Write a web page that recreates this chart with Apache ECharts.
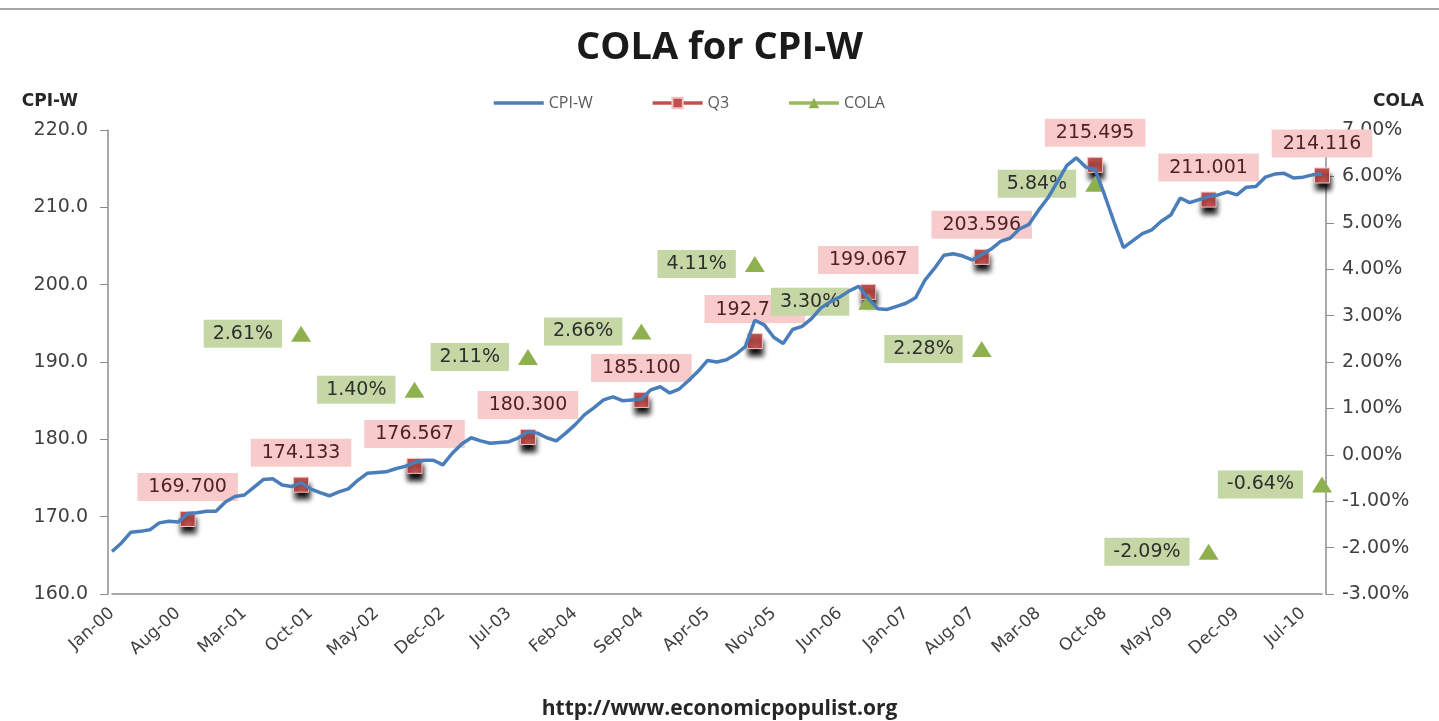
<!DOCTYPE html>
<html>
<head>
<meta charset="utf-8">
<script src="https://cdn.jsdelivr.net/npm/echarts@6/dist/echarts.min.js"></script>
<style>
html,body{margin:0;padding:0;background:#fff;}
#chart{width:1439px;height:721px;}
</style>
</head>
<body>
<div id="chart"></div>
<script>
// ---- Data ----
var MONTHS = ['Jan','Feb','Mar','Apr','May','Jun','Jul','Aug','Sep','Oct','Nov','Dec'];
var YEARS = ['00','01','02','03','04','05','06','07','08','09','10'];
var LAST_MONTH_2010 = 9; // data ends Sep-10

var cpiW = [
  165.5,166.6,168.0,168.1,168.3,169.2,169.4,169.3,170.4,170.5,170.7,170.7,
  171.9,172.6,172.8,173.8,174.8,174.9,174.1,173.9,174.4,173.6,173.1,172.7,
  173.2,173.6,174.7,175.6,175.7,175.8,176.2,176.5,177.0,177.3,177.3,176.7,
  178.2,179.4,180.2,179.8,179.5,179.6,179.7,180.2,181.0,180.8,180.2,179.8,
  180.8,181.9,183.2,184.1,185.1,185.5,185.0,185.1,185.2,186.4,186.8,186.0,
  186.5,187.6,188.8,190.2,190.0,190.3,191.0,192.0,195.4,194.8,193.2,192.4,
  194.2,194.6,195.6,197.0,197.8,198.4,199.2,199.8,198.2,196.9,196.8,197.2,
  197.6,198.3,200.6,202.1,203.8,204.0,203.7,203.2,203.9,204.6,205.6,206.0,
  207.2,207.8,209.6,211.2,213.3,215.4,216.4,215.2,214.9,211.6,208.1,204.8,
  205.7,206.6,207.1,208.2,209.0,211.2,210.6,211.0,211.4,211.6,212.0,211.6,
  212.6,212.7,213.9,214.3,214.4,213.8,213.9,214.2,214.3
];

// Q3 averages, plotted at September of each year 2000..2010
var q3Labels = ['Sep-00','Sep-01','Sep-02','Sep-03','Sep-04','Sep-05','Sep-06','Sep-07','Sep-08','Sep-09','Sep-10'];
var q3Values = [169.700,174.133,176.567,180.300,185.100,192.700,199.067,203.596,215.495,211.001,214.116];

// COLA (%), plotted at September of each year 2001..2010
var colaLabels = ['Sep-01','Sep-02','Sep-03','Sep-04','Sep-05','Sep-06','Sep-07','Sep-08','Sep-09','Sep-10'];
var colaValues = [2.61,1.40,2.11,2.66,4.11,3.30,2.28,5.84,-2.09,-0.64];

// ---- Build category axis & series arrays ----
var categories = [];
YEARS.forEach(function(y, yi){
  var n = (yi === YEARS.length - 1) ? LAST_MONTH_2010 : 12;
  for (var m = 0; m < n; m++) categories.push(MONTHS[m] + '-' + y);
});
function place(labels, values){
  var arr = categories.map(function(){ return null; });
  labels.forEach(function(l, i){ arr[categories.indexOf(l)] = values[i]; });
  return arr;
}
var q3Data = place(q3Labels, q3Values);
var colaData = place(colaLabels, colaValues);

var FONT = "'DejaVu Sans', sans-serif";
var chart = echarts.init(document.getElementById('chart'));
chart.setOption({
  backgroundColor: '#ffffff',
  animation: false,
  title: [
    { text: 'COLA for CPI-W', left: 'center', top: 24,
      textStyle: { fontFamily: "'Open Sans', sans-serif", fontWeight: 'bold', fontSize: 38, color: '#1a1a1a' } },
    { text: 'http://www.economicpopulist.org', left: 'center', top: 694,
      textStyle: { fontFamily: "'Open Sans', sans-serif", fontWeight: 'bold', fontSize: 21, color: '#262626' } }
  ],
  graphic: [
    { type: 'line', shape: { x1: 0, y1: 9, x2: 1439, y2: 9 }, style: { stroke: '#a6a6a6', lineWidth: 2 } }
  ],
  legend: {
    left: 487, top: 90,
    itemWidth: 50, itemHeight: 13, itemGap: 58,
    textStyle: { fontFamily: "'Open Sans', sans-serif", fontSize: 16, color: '#595959' },
    data: [
      { name: 'CPI-W', itemStyle: { opacity: 0 }, lineStyle: { width: 3.5, color: '#4a7ebb' } },
      { name: 'Q3', lineStyle: { width: 3.5, color: '#c0504d' }, itemStyle: { shadowBlur: 0, shadowOffsetY: 0, shadowColor: 'transparent' } },
      { name: 'COLA', lineStyle: { width: 3.5, color: '#9bbb59' } }
    ]
  },
  grid: { left: 112, right: 117, top: 130, bottom: 127 },
  xAxis: {
    type: 'category',
    data: categories,
    boundaryGap: false,
    axisLine: { onZero: false, lineStyle: { color: '#8c8c8c', width: 1.5 } },
    axisTick: { show: false },
    axisLabel: { interval: 6, rotate: 42, fontFamily: FONT, fontSize: 17, color: '#404040', margin: 17 },
    splitLine: { show: false }
  },
  yAxis: [
    { type: 'value', min: 160, max: 220, interval: 10, position: 'left', offset: 4,
      name: 'CPI-W', nameLocation: 'end', nameGap: 20,
      nameTextStyle: { fontFamily: FONT, fontWeight: 'bold', fontSize: 17, color: '#262626', align: 'right', padding: [0, 30, 0, 0] },
      axisLine: { show: true, onZero: false, lineStyle: { color: '#8c8c8c', width: 1.5 } },
      axisTick: { show: true, length: 8, lineStyle: { color: '#8c8c8c' } },
      axisLabel: { fontFamily: FONT, fontSize: 19, color: '#404040', margin: 20,
        formatter: function(v){ return v.toFixed(1); } },
      splitLine: { show: false }
    },
    { type: 'value', min: -3, max: 7, interval: 1, position: 'right', offset: 4,
      name: 'COLA', nameLocation: 'end', nameGap: 20,
      nameTextStyle: { fontFamily: FONT, fontWeight: 'bold', fontSize: 17, color: '#262626', align: 'left', padding: [0, 0, 0, 47] },
      axisLine: { show: true, onZero: false, lineStyle: { color: '#8c8c8c', width: 1.5 } },
      axisTick: { show: true, length: 8, lineStyle: { color: '#8c8c8c' } },
      axisLabel: { fontFamily: FONT, fontSize: 19, color: '#404040', margin: 16,
        formatter: function(v){ return v.toFixed(2) + '%'; } },
      splitLine: { show: false }
    }
  ],
  series: [
    { name: 'CPI-W', type: 'line', data: cpiW, yAxisIndex: 0, symbol: 'none', z: 5,
      lineStyle: { color: '#4a7ebb', width: 3.5 }, itemStyle: { color: '#4a7ebb' } },
    { name: 'Q3', type: 'line', data: q3Data, yAxisIndex: 0, connectNulls: false, z: 3,
      symbol: 'rect', symbolSize: 15, showAllSymbol: true,
      itemStyle: { color: '#c0504d', borderColor: '#f2c4c4', borderWidth: 1,
        shadowColor: 'rgba(0,0,0,0.95)', shadowBlur: 5, shadowOffsetY: 7, shadowOffsetX: 1 },
      lineStyle: { color: '#c0504d', width: 3 },
      label: { show: true, position: 'top', distance: 10,
        formatter: function(p){ return p.value.toFixed(3); },
        fontFamily: FONT, fontSize: 19, color: '#4d1f1f',
        backgroundColor: '#f7cbcb', padding: [5, 11, 4, 11] }
    },
    { name: 'COLA', type: 'line', data: colaData, yAxisIndex: 1, connectNulls: false, z: 3,
      symbol: 'triangle', symbolSize: [20, 16], showAllSymbol: true,
      itemStyle: { color: '#8fb04f' },
      lineStyle: { color: '#9bbb59', width: 3 },
      label: { show: true, position: 'left', distance: 9,
        formatter: function(p){ return p.value.toFixed(2) + '%'; },
        fontFamily: FONT, fontSize: 19, color: '#2e2e2e',
        backgroundColor: '#c6d7a6', padding: [5, 9, 4, 9] }
    }
  ]
});
</script>
</body>
</html>
